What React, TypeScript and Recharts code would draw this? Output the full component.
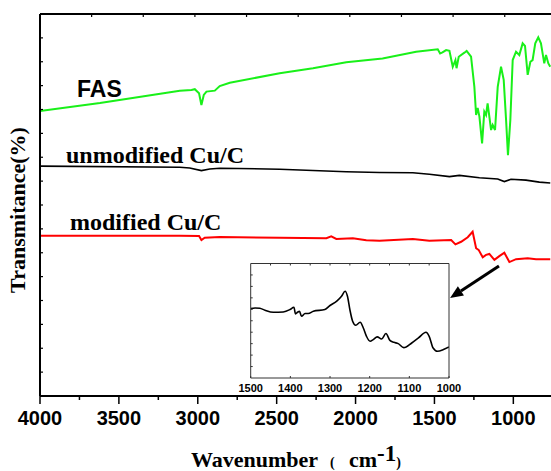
import React from "react";
import { LineChart, Line, XAxis, YAxis, ReferenceLine } from "recharts";

// wavenumber (cm-1) / transmitance readings
const fasWn = [4000, 3620, 3114, 3040, 3019, 2992, 2977, 2962, 2945, 2892, 2861, 2797, 2481, 2270, 2059, 1829, 1616, 1479, 1464, 1449, 1426, 1405, 1384, 1367, 1360, 1346, 1310, 1296, 1268, 1247, 1236, 1226, 1215, 1198, 1184, 1173, 1163, 1152, 1141, 1131, 1116, 1099, 1078, 1061, 1046, 1034, 1019, 1004, 983, 962, 941, 926, 909, 892, 878, 861, 842, 825, 804, 793, 778, 766];
const fasT = [11.94, 12.27, 12.79, 12.82, 12.85, 12.68, 12.19, 12.61, 12.75, 12.79, 12.98, 13.12, 13.52, 13.73, 13.98, 14.14, 14.42, 14.52, 14.35, 14.39, 14.49, 14.46, 13.79, 14.07, 13.73, 14.21, 14.38, 14.45, 14.21, 12.95, 11.77, 12.06, 11.7, 10.58, 11.91, 11.77, 12.26, 11.7, 11.14, 11.35, 11.14, 12.95, 13.79, 13.24, 11.56, 10.09, 11.56, 14.07, 14.42, 14.28, 14.77, 14.66, 13.45, 14.0, 14.07, 14.77, 15.02, 14.77, 13.93, 14.28, 13.93, 13.79];

const unmodWn = [4000, 3114, 3051, 2977, 2924, 2861, 2481, 2059, 1848, 1637, 1532, 1405, 1342, 1215, 1099, 1057, 1015, 920, 835, 766];
const unmodT = [9.63, 9.58, 9.55, 9.44, 9.51, 9.54, 9.5, 9.39, 9.36, 9.35, 9.29, 9.19, 9.24, 9.14, 9.09, 8.98, 9.08, 9.04, 8.96, 8.92];

const modWn = [4000, 3114, 2992, 2977, 2956, 2861, 2481, 2185, 2154, 2122, 2017, 1932, 1848, 1637, 1532, 1394, 1367, 1331, 1289, 1258, 1236, 1220, 1194, 1173, 1152, 1120, 1089, 1057, 1025, 983, 909, 856, 766];
const modT = [6.71, 6.71, 6.7, 6.53, 6.63, 6.66, 6.63, 6.61, 6.69, 6.58, 6.61, 6.52, 6.5, 6.58, 6.5, 6.53, 6.35, 6.46, 6.65, 6.88, 6.19, 6.12, 5.81, 5.91, 5.95, 5.7, 5.86, 6.0, 5.61, 5.73, 5.77, 5.73, 5.73];

// inset: modified Cu/C, 1500-1000 cm-1
const insetWn = [1500, 1489, 1477, 1464, 1443, 1418, 1401, 1391, 1387, 1382, 1377, 1372, 1363, 1355, 1342, 1313, 1300, 1283, 1271, 1262, 1256, 1250, 1243, 1235, 1224, 1216, 1208, 1199, 1191, 1181, 1170, 1159, 1149, 1139, 1128, 1114, 1094, 1077, 1058, 1050, 1040, 1029, 1014, 1000];
const insetT = [6.06, 6.12, 6.09, 5.92, 5.74, 5.77, 5.98, 6.18, 5.6, 5.74, 5.83, 5.39, 5.63, 5.63, 5.83, 5.98, 6.33, 6.71, 7.14, 7.58, 7.14, 5.98, 4.96, 4.61, 4.87, 4.37, 3.64, 3.21, 3.35, 3.59, 3.41, 3.88, 3.29, 3.12, 3.0, 2.65, 3.06, 3.5, 3.99, 3.64, 2.62, 2.33, 2.48, 2.71];

const bottomTicks = [4000, 3750, 3500, 3250, 3000, 2750, 2500, 2250, 2000, 1750, 1500, 1250, 1000, 750];
const topTicks = [3672.7, 3345.5, 3018.2, 2690.9, 2363.6, 2036.4, 1709.1, 1381.8, 1054.5, 727.3];
const yTicks = [1, 2, 3, 4, 5, 6, 7, 8, 9, 10, 11, 12, 13, 14, 15];
const insetLabelTicks = [1500, 1400, 1300, 1200, 1100, 1000];
const insetTopTicks = [1450, 1400, 1350, 1300, 1250, 1200, 1150, 1100, 1050];
const insetYTicks = [1, 2, 3, 4, 5, 6, 7, 8, 9];

const zip = (wn: number[], t: number[]) => wn.map((w, i) => ({ wn: w, t: t[i] }));
const fasData = zip(fasWn, fasT);
const unmodData = zip(unmodWn, unmodT);
const modData = zip(modWn, modT);
const insetData = zip(insetWn, insetT);

const SANS = "'Liberation Sans', Arial, sans-serif";
const SERIF = "'Liberation Serif', 'Times New Roman', serif";

const BottomTick = (p: any) => {
  const major = p.payload.value % 500 === 0;
  return (
    <g>
      <line x1={p.x} y1={p.y} x2={p.x} y2={p.y + (major ? 8 : 4)} stroke="#000" strokeWidth={1.5} />
      {major && (
        <text x={p.x} y={p.y + 29} textAnchor="middle" fontFamily={SANS} fontWeight="bold" fontSize={20} fill="#000">
          {p.payload.value}
        </text>
      )}
    </g>
  );
};

const TopTick = (p: any) => (
  <line x1={p.x} y1={p.y} x2={p.x} y2={p.y + 3} stroke="#000" strokeWidth={1.2} />
);

const LeftTick = (p: any) => (
  <line x1={p.x} y1={p.y} x2={p.x + 3} y2={p.y} stroke="#000" strokeWidth={1.2} />
);

const InsetBottomTick = (p: any) => (
  <g>
    <line x1={p.x} y1={p.y} x2={p.x} y2={p.y - 2} stroke="#333" />
    <text x={p.x} y={p.y + 14} textAnchor="middle" fontFamily={SANS} fontWeight="bold" fontSize={11} fill="#000">
      {p.payload.value}
    </text>
  </g>
);
const InsetTopTick = (p: any) => <line x1={p.x} y1={p.y} x2={p.x} y2={p.y + 2} stroke="#333" />;
const InsetLeftTick = (p: any) => <line x1={p.x} y1={p.y} x2={p.x + 2} y2={p.y} stroke="#333" />;
const InsetRightTick = (p: any) => <line x1={p.x} y1={p.y} x2={p.x - 2} y2={p.y} stroke="#333" />;

const ArrowShape = (p: any) => {
  const { x1, y1, x2, y2 } = p;
  const dx = x2 - x1;
  const dy = y2 - y1;
  const len = Math.hypot(dx, dy) || 1;
  const ux = dx / len;
  const uy = dy / len;
  const bx = x2 - ux * 13;
  const by = y2 - uy * 13;
  return (
    <g>
      <line x1={x1} y1={y1} x2={bx} y2={by} stroke="#000" strokeWidth={3} />
      <polygon
        points={`${x2},${y2} ${bx - uy * 5.5},${by + ux * 5.5} ${bx + uy * 5.5},${by - ux * 5.5}`}
        fill="#000"
      />
    </g>
  );
};

export default function App() {
  return (
    <div style={{ position: "absolute", left: 0, top: 0, width: 551, height: 471, overflow: "hidden", background: "#fff" }}>
      <LineChart width={608} height={471} margin={{ top: 13, right: 0, bottom: 74, left: 39 }}>
        <XAxis
          type="number"
          dataKey="wn"
          domain={[400, 4000]}
          reversed
          allowDataOverflow
          height={1}
          ticks={bottomTicks}
          interval={0}
          tickLine={false}
          tickSize={0}
          tickMargin={0}
          tick={BottomTick}
          axisLine={{ stroke: "#000", strokeWidth: 2 }}
        />
        <XAxis
          xAxisId="top"
          orientation="top"
          type="number"
          dataKey="wn"
          domain={[400, 4000]}
          reversed
          allowDataOverflow
          height={1}
          ticks={topTicks}
          interval={0}
          tickLine={false}
          tickSize={0}
          tickMargin={0}
          tick={TopTick}
          axisLine={{ stroke: "#000", strokeWidth: 2 }}
        />
        <YAxis
          type="number"
          domain={[0, 16]}
          width={1}
          ticks={yTicks}
          interval={0}
          tickLine={false}
          tickSize={0}
          tickMargin={0}
          tick={LeftTick}
          axisLine={{ stroke: "#000", strokeWidth: 2 }}
        />
        <Line data={fasData} dataKey="t" type="linear" stroke="#19f019" strokeWidth={2} dot={false} isAnimationActive={false} />
        <Line data={unmodData} dataKey="t" type="linear" stroke="#000" strokeWidth={1.6} dot={false} isAnimationActive={false} />
        <Line data={modData} dataKey="t" type="linear" stroke="#ff0000" strokeWidth={2} dot={false} isAnimationActive={false} />
        <ReferenceLine
          segment={[
            { x: 1091, y: 5.45 },
            { x: 1401, y: 4.1 },
          ]}
          shape={ArrowShape}
        />
      </LineChart>

      <svg width={551} height={471} style={{ position: "absolute", left: 0, top: 0, pointerEvents: "none" }}>
        <text x={77} y={97} fontFamily={SANS} fontWeight="bold" fontSize={23} fill="#000">FAS</text>
        <text x={66} y={163} fontFamily={SERIF} fontWeight="bold" fontSize={24} fill="#000">unmodified Cu/C</text>
        <text x={70} y={230} fontFamily={SERIF} fontWeight="bold" fontSize={24} fill="#000">modified Cu/C</text>
        <text
          x={25}
          y={210}
          transform="rotate(-90, 25, 210)"
          textAnchor="middle"
          fontFamily={SERIF}
          fontWeight="bold"
          fontSize={22}
          fill="#000"
        >
          Transmitance(%)
        </text>
        <text y={467} fontFamily={SERIF} fontWeight="bold" fill="#000">
          <tspan x={191} fontSize={22}>Wavenumber</tspan>
          <tspan x={330} fontSize={14}>(</tspan>
          <tspan x={349} fontSize={22}>cm</tspan>
          <tspan fontSize={23} dy={-6}>-1</tspan>
          <tspan fontSize={14} dy={6}>)</tspan>
        </text>
      </svg>

      <div style={{ position: "absolute", left: 230, top: 258 }}>
        <LineChart width={240} height={150} data={insetData} margin={{ top: 4.5, right: 20, bottom: 29, left: 19.7 }}>
          <XAxis
            type="number"
            dataKey="wn"
            domain={[1000, 1500]}
            reversed
            allowDataOverflow
            height={1}
            ticks={insetLabelTicks}
            interval={0}
            tickLine={false}
            tickSize={0}
            tickMargin={0}
            tick={InsetBottomTick}
            axisLine={{ stroke: "#333", strokeWidth: 1 }}
          />
          <XAxis
            xAxisId="top"
            orientation="top"
            type="number"
            dataKey="wn"
            domain={[1000, 1500]}
            reversed
            allowDataOverflow
            height={1}
            ticks={insetTopTicks}
            interval={0}
            tickLine={false}
            tickSize={0}
            tickMargin={0}
            tick={InsetTopTick}
            axisLine={{ stroke: "#333", strokeWidth: 1 }}
          />
          <YAxis
            type="number"
            domain={[0, 10]}
            width={1}
            ticks={insetYTicks}
            interval={0}
            tickLine={false}
            tickSize={0}
            tickMargin={0}
            tick={InsetLeftTick}
            axisLine={{ stroke: "#333", strokeWidth: 1 }}
          />
          <YAxis
            yAxisId="right"
            orientation="right"
            type="number"
            domain={[0, 10]}
            width={1}
            ticks={insetYTicks}
            interval={0}
            tickLine={false}
            tickSize={0}
            tickMargin={0}
            tick={InsetRightTick}
            axisLine={{ stroke: "#333", strokeWidth: 1 }}
          />
          <Line dataKey="t" type="monotone" stroke="#000" strokeWidth={1.6} dot={false} isAnimationActive={false} />
        </LineChart>
      </div>
    </div>
  );
}
